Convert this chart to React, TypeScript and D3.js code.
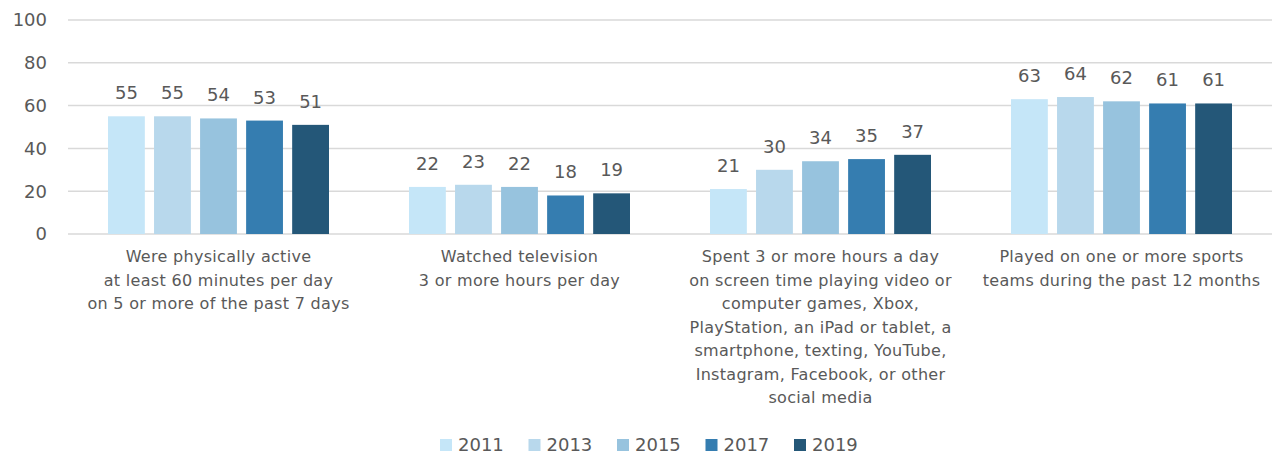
import React from "react";
import * as d3 from "d3";

const categories = [
  ["Were physically active", "at least 60 minutes per day", "on 5 or more of the past 7 days"],
  ["Watched television", "3 or more hours per day"],
  ["Spent 3 or more hours a day", "on screen time playing video or", "computer games, Xbox,", "PlayStation, an iPad or tablet, a", "smartphone, texting, YouTube,", "Instagram, Facebook, or other", "social media"],
  ["Played on one or more sports", "teams during the past 12 months"],
];
const years = ["2011", "2013", "2015", "2017", "2019"];
const values = [
  [55, 55, 54, 53, 51],
  [22, 23, 22, 18, 19],
  [21, 30, 34, 35, 37],
  [63, 64, 62, 61, 61],
];
const yTicks = [0, 20, 40, 60, 80, 100];
const colors = ["#c5e6f8", "#b8d8ec", "#97c3de", "#357db0", "#245778"];

const W = 1276, H = 455;
const FONT = "'DejaVu Sans', sans-serif";
const TXT = "#595959";

export default function App() {
  const x0 = d3.scaleBand<number>().domain(d3.range(categories.length)).range([68, 1272]);
  const x1 = d3.scaleBand<string>().domain(years).range([40, x0.bandwidth() - 40]).paddingInner(0.2);
  const y = d3.scaleLinear().domain([0, 100]).range([234, 20]);

  return (
    <svg width={W} height={H} style={{ position: "absolute", left: 0, top: 0, background: "#fff" }} fontFamily={FONT}>
      {yTicks.map((t) => (
        <g key={t}>
          <line x1={68} x2={1272} y1={y(t)} y2={y(t)} stroke="#d9d9d9" strokeWidth={1.5} />
          <text x={47} y={y(t)} dy="0.35em" textAnchor="end" fontSize={18} fill={TXT}>{t}</text>
        </g>
      ))}
      {values.map((row, ci) => (
        <g key={ci} transform={`translate(${x0(ci)},0)`}>
          {row.map((v, yi) => (
            <g key={yi}>
              <rect x={x1(years[yi])} y={y(v)} width={x1.bandwidth()} height={y(0) - y(v)} fill={colors[yi]} />
              <text x={(x1(years[yi]) as number) + x1.bandwidth() / 2} y={y(v) - 17} textAnchor="middle" fontSize={18} fill={TXT}>{v}</text>
            </g>
          ))}
          {categories[ci].map((line, li) => (
            <text key={li} x={x0.bandwidth() / 2} y={262 + li * 23.5} textAnchor="middle" fontSize={16} letterSpacing={0.3} fill={TXT}>{line}</text>
          ))}
        </g>
      ))}
      {years.map((yr, i) => (
        <g key={yr} transform={`translate(${440 + i * 88.5},439)`}>
          <rect x={0} y={0} width={12} height={12} fill={colors[i]} />
          <text x={18} y={6} dy="0.35em" fontSize={18} fill={TXT}>{yr}</text>
        </g>
      ))}
    </svg>
  );
}
